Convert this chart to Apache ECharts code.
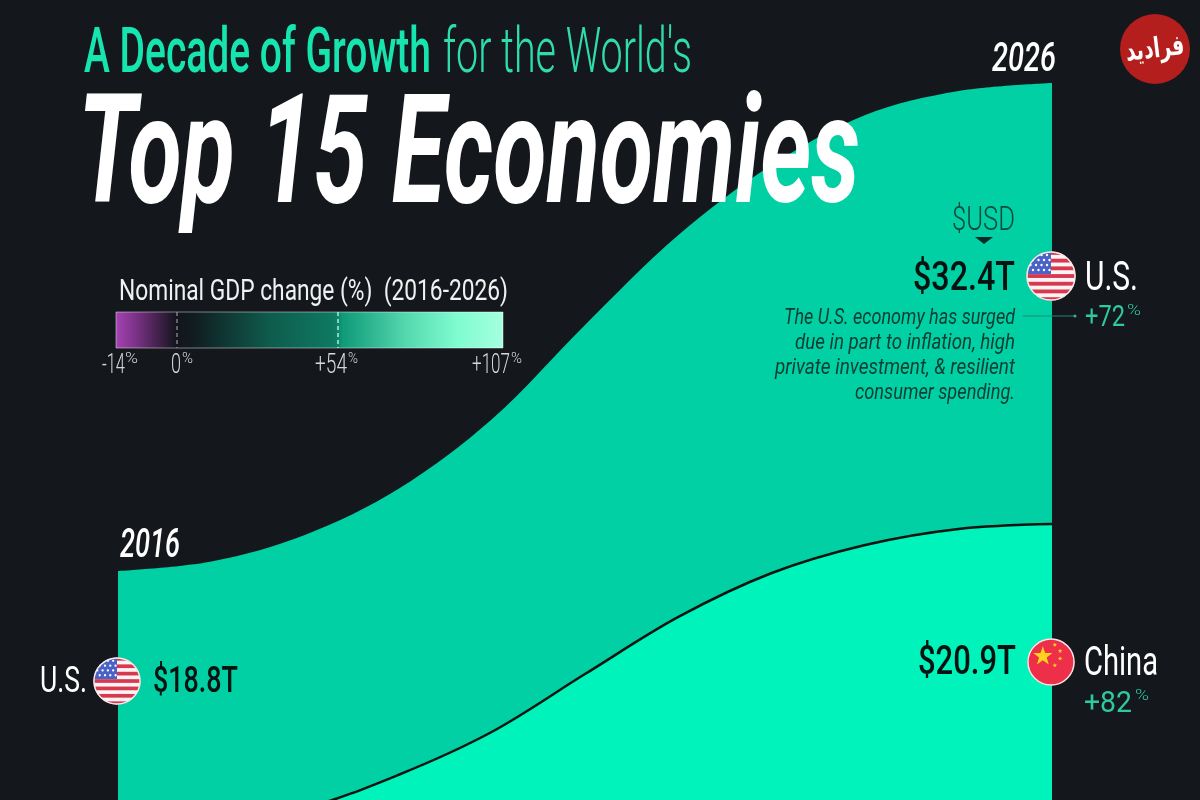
<!DOCTYPE html>
<html>
<head>
<meta charset="utf-8">
<style>html,body{margin:0;padding:0;background:#14171c}#c{width:1200px;height:800px}</style>
<script src="https://cdn.jsdelivr.net/npm/echarts@6/dist/echarts.min.js"></script>
</head>
<body>
<div id="c"></div>
<script>
// Data: band edges in $T above the lower edge of the visible chart
const years = [2016,2017,2018,2019,2020,2021,2022,2023,2024,2025,2026];
const usEdge = [16.84,17.54,19.49,22.87,27.98,34.93,41.54,46.69,50.37,52.13,52.72];
const chinaEdge = [-1.99,-1.62,-0.59,1.84,5.0,9.26,13.46,16.69,18.75,19.93,20.29];
const legendTicks = ['-14','0','+54','+107'];
const noteLines = ['The U.S. economy has surged','due in part to inflation, high','private investment, & resilient','consumer spending.'];

const FF = 'Roboto, sans-serif';
const BG = '#14171c', US_C = '#00d0a3', CN_C = '#00f3ba', MINT = '#2fc9a0';
const ctx = document.createElement('canvas').getContext('2d');
function T(text, x0, x1, y, size, weight, fill, opt){
  opt = opt || {};
  const style = opt.italic ? 'italic ' : '';
  const font = style + weight + ' ' + size + 'px ' + FF;
  ctx.font = font;
  const w = ctx.measureText(text).width;
  const el = {type:'text', x:x0, y:y + size*0.09, z:20, scaleX:(x1-x0)/w, scaleY:1, silent:true,
    style:{text:text, font:font, fill:fill, align:'left', verticalAlign:'middle'}};
  if(opt.shadow){ el.style.shadowColor='rgba(0,0,0,.45)'; el.style.shadowBlur=5; el.style.shadowOffsetY=2; el.style.shadowOffsetX=1; }
  return el;
}
function svgImg(body, cx, cy, r){
  const svg = "<svg xmlns='http://www.w3.org/2000/svg' width='200' height='200' viewBox='0 0 100 100'><defs><clipPath id='k'><circle cx='50' cy='50' r='49'/></clipPath></defs><g clip-path='url(#k)'>"+body+"</g><circle cx='50' cy='50' r='48' fill='none' stroke='#f4e9ea' stroke-width='3'/></svg>";
  return {type:'image', z:21, silent:true, style:{image:'data:image/svg+xml;charset=utf-8,'+encodeURIComponent(svg), x:cx-r, y:cy-r, width:2*r, height:2*r}};
}
function usFlag(cx,cy,r){
  let b = "<rect width='100' height='100' fill='#fdf3f3'/>";
  for(let i=0;i<7;i++) b += "<rect y='"+(i*15.4)+"' width='100' height='7.7' fill='#d63a50'/>";
  b += "<rect width='50' height='46' fill='#4a63c8'/>";
  for(let r2=0;r2<4;r2++) for(let c=0;c<4;c++) b += "<circle cx='"+(9+c*11+(r2%2)*5)+"' cy='"+(8+r2*10)+"' r='2.4' fill='#fff'/>";
  return svgImg(b,cx,cy,r);
}
function cnFlag(cx,cy,r){
  const star = (x,y,s)=>{ let p=[]; for(let i=0;i<10;i++){const a=-Math.PI/2+i*Math.PI/5, q=i%2?s*0.4:s; p.push((x+q*Math.cos(a)).toFixed(1)+','+(y+q*Math.sin(a)).toFixed(1));} return "<polygon points='"+p.join(' ')+"' fill='#ffd21f'/>"; };
  const b = "<rect width='100' height='100' fill='#ee2f4a'/>"+star(33,38,21)+star(58,14,5)+star(69,27,5)+star(69,43,5)+star(58,57,5);
  return svgImg(b,cx,cy,r);
}
const g = [];
// Logo
g.push({type:'circle', z:20, silent:true, shape:{cx:1155,cy:49,r:35}, style:{fill:'#b41f1d'}});
g.push({type:'text', z:21, x:1155, y:50, scaleX:0.68, rotation:0.12, silent:true, style:{text:'فرادید', font:'bold 28px "DejaVu Sans"', fill:'#fff', align:'center', verticalAlign:'middle'}});
// Titles
g.push(T('A Decade of Growth',84,431,51,63,500,'#17e5b0'));
g.push(T("for the World's",443,692,51,63,300,'#2fdcae'));
g.push(T('Top 15 Economies',78,860,150,152,700,'#ffffff',{italic:true,shadow:true}));
g.push(T('2026',992,1056,57,40,500,'#ffffff',{italic:true}));
g.push(T('2016',120,180,543,40,500,'#ffffff',{italic:true}));
// Legend
g.push(T('Nominal GDP change (%)  (2016-2026)',119,508,290,30,400,'#eef2f1'));
g.push({type:'rect', z:20, silent:true, shape:{x:116,y:312,width:387,height:36},
  style:{stroke:'rgba(255,255,255,.45)', lineWidth:1, fill:{type:'linear',x:0,y:0,x2:1,y2:0,colorStops:[
    {offset:0,color:'#a443b4'},{offset:0.05,color:'#7d3389'},{offset:0.157,color:'#14141c'},{offset:0.2,color:'#101c20'},
    {offset:0.40,color:'#0f5c4d'},{offset:0.565,color:'#0d7a61'},{offset:0.585,color:'#0f9a78'},{offset:0.75,color:'#55d8ae'},{offset:0.88,color:'#7ffcd0'},{offset:1,color:'#a6ffe0'}]}}});
g.push({type:'line', z:21, silent:true, shape:{x1:177,y1:312,x2:177,y2:348}, style:{stroke:'#9a9a9a',lineWidth:1.2,lineDash:[4,3]}});
g.push({type:'line', z:21, silent:true, shape:{x1:338,y1:312,x2:338,y2:348}, style:{stroke:'#d8fff2',lineWidth:1.2,lineDash:[4,3]}});
const tickPos = [[102,125,125,138],[171,181,182,193],[315,347,348,358],[472,510,511,522]];
legendTicks.forEach((t,i)=>{
  const p = tickPos[i];
  g.push(T(t,p[0],p[1],364,27,300,'#d5dad9'));
  g.push(T('%',p[2],p[3],358,15,300,'#d5dad9'));
});
// US 2026
g.push(T('$USD',952,1015,219,33,300,'#0a4a3d'));
g.push({type:'polygon', z:20, silent:true, shape:{points:[[975,237],[993,237],[984,244]]}, style:{fill:'#0a2a24'}});
g.push(T('$32.4T',913,1015,276,40,500,'#06120f'));
g.push(usFlag(1051,276,25));
g.push(T('U.S.',1085,1138,276,40,400,'#ffffff'));
g.push(T('+72',1085,1125,316,30,400,MINT));
g.push(T('%',1127,1141,310,15,300,MINT));
g.push({type:'line', z:20, silent:true, shape:{x1:1023,y1:316,x2:1075,y2:316}, style:{stroke:'#1f8a70',lineWidth:1}});
g.push({type:'circle', z:20, silent:true, shape:{cx:1075,cy:316,r:1.5}, style:{fill:'#3fae92'}});
const noteX = [784,795,775,855], noteY=[317,342,367,392];
noteLines.forEach((t,i)=>g.push(T(t,noteX[i],1015,noteY[i],22,400,'#0a3d33',{italic:true})));
// China 2026
g.push(T('$20.9T',918,1016,660,40,500,'#06120f'));
g.push(cnFlag(1051,662,24));
g.push(T('China',1084,1158,661,40,400,'#ffffff'));
g.push(T('+82',1084,1132,702,30,400,MINT));
g.push(T('%',1135,1149,695,15,300,MINT));
// US 2016
g.push(T('U.S.',40,87,680,36,400,'#ffffff'));
g.push(usFlag(117,681,24));
g.push(T('$18.8T',153,238,680,36,500,'#06120f'));

const chart = echarts.init(document.getElementById('c'));
chart.setOption({
  animation:false,
  backgroundColor:BG,
  grid:{left:118, top:0, width:934, height:800},
  xAxis:{type:'value', min:2016, max:2026, show:false},
  yAxis:{type:'value', min:0, max:58.82, show:false},
  series:[
    {name:'U.S.', type:'line', data:years.map((y,i)=>[y,usEdge[i]]), smooth:0.34, showSymbol:false, lineStyle:{width:0}, itemStyle:{color:US_C}, areaStyle:{color:US_C, opacity:1, origin:'start'}, z:2},
    {name:'China', type:'line', data:years.map((y,i)=>[y,chinaEdge[i]]), smooth:0.34, showSymbol:false, lineStyle:{width:2.5,color:'#0a1512'}, itemStyle:{color:CN_C}, areaStyle:{color:CN_C, opacity:1, origin:'start'}, z:3}
  ],
  graphic:{elements:g}
});
</script>
</body>
</html>
